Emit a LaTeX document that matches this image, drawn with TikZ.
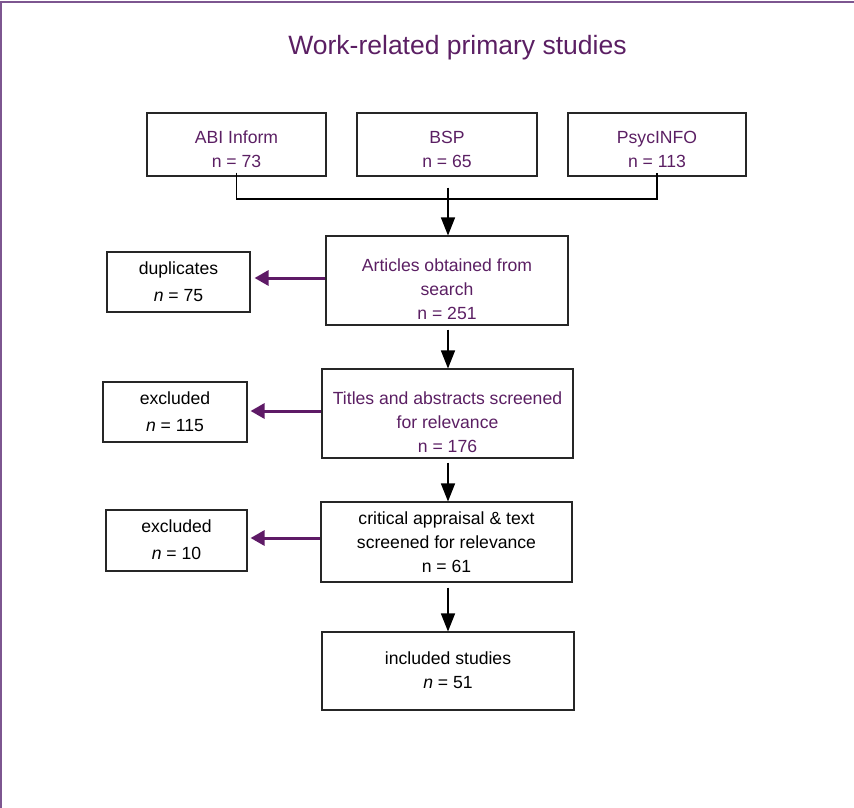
\documentclass[tikz,border=0pt]{standalone}
\usepackage{fontspec}
\setmainfont{Liberation Sans}
\usetikzlibrary{arrows.meta}
\definecolor{txtpurple}{HTML}{5B1F63}
\definecolor{arrpurple}{HTML}{5E1A66}
\definecolor{framepurple}{HTML}{7D5690}
\begin{document}
\begin{tikzpicture}[x=1pt,y=-1pt,
  box/.style={draw=black!85, line width=1.1pt, rectangle, inner sep=0pt},
  txt/.style={align=center, inner sep=0pt, font=\fontsize{17.6}{24}\selectfont},
  ptxt/.style={txt, text=txtpurple},
  darrow/.style={draw=black, line width=1.3pt, -{Triangle[length=18pt,width=14pt]}},
  parrow/.style={draw=arrpurple, line width=3pt, -{Triangle[length=14pt,width=15pt]}},
  bracket/.style={draw=black, line width=1.8pt}
]
\useasboundingbox (0,0) rectangle (854,808);
% frame (top and left edges)
\draw[framepurple, line width=2pt] (1,808) -- (1,2) -- (854,2);

% title
\node[font=\fontsize{26.5}{30}\selectfont, text=txtpurple, inner sep=0pt] (title) at (457.5,48) {Work-related primary studies};

% top database boxes
\node[box, minimum width=179pt, minimum height=63pt] (abi) at (236.5,144.5) {};
\node[box, minimum width=180pt, minimum height=63pt] (bsp) at (447,144.5) {};
\node[box, minimum width=178pt, minimum height=63pt] (psy) at (657,144.5) {};
\node[ptxt] (tabi) at (236.5,149) {ABI Inform\\n = 73};
\node[ptxt] (tbsp) at (447,149) {BSP\\n = 65};
\node[ptxt] (tpsy) at (657,149) {PsycINFO\\n = 113};

% main column
\node[box, minimum width=242pt, minimum height=89pt] (art) at (447,280.5) {};
\node[ptxt] (tart) at (447,289) {Articles obtained from\\search\\n = 251};
\node[box, minimum width=251pt, minimum height=89pt] (tit) at (447.5,413.5) {};
\node[ptxt] (ttit) at (447.5,422.5) {Titles and abstracts screened\\for relevance\\n = 176};
\node[box, minimum width=251pt, minimum height=80pt] (cri) at (446.5,542) {};
\node[txt] (tcri) at (446.5,542) {critical appraisal \& text\\screened for relevance\\n = 61};
\node[box, minimum width=252pt, minimum height=78pt] (inc) at (448,671) {};
\node[txt] (tinc) at (448,670) {included studies\\\textit{n} = 51};

% side boxes
\node[box, minimum width=143pt, minimum height=60pt] (dup) at (178.5,282) {};
\node[txt] (tdup) at (178.5,281.5) {duplicates\\[3pt]\textit{n} = 75};
\node[box, minimum width=144pt, minimum height=60pt] (ex1) at (175,412) {};
\node[txt] (tex1) at (175,411.5) {excluded\\[3pt]\textit{n} = 115};
\node[box, minimum width=141pt, minimum height=61pt] (ex2) at (176.5,540.5) {};
\node[txt] (tex2) at (176.5,539.5) {excluded\\[3pt]\textit{n} = 10};

% bracket joining the databases
\coordinate (brk) at (447,199);
\draw[bracket] ([yshift=4pt]abi.south) |- (brk) -| ([yshift=4pt]psy.south);

% downward arrows
\draw[darrow] ([xshift=1pt,yshift=-11pt]bsp.south) -- ([xshift=1pt]art.north);
\draw[darrow] ([xshift=1pt,yshift=-4pt]art.south) -- ([xshift=0.5pt]tit.north);
\draw[darrow] ([xshift=0.5pt,yshift=-4pt]tit.south) -- ([xshift=1.5pt]cri.north);
\draw[darrow] ([xshift=1.5pt,yshift=-5pt]cri.south) -- (inc.north);

% exclusion arrows (horizontal)
\coordinate (a1) at ([yshift=2.5pt]art.west);
\coordinate (d1) at ([xshift=4pt]dup.east);
\coordinate (a2) at ([yshift=2.5pt]tit.west);
\coordinate (d2) at ([xshift=3pt]ex1.east);
\coordinate (a3) at ([yshift=4pt]cri.west);
\coordinate (d3) at ([xshift=3pt]ex2.east);
\draw[parrow] (a1) -- (a1 -| d1);
\draw[parrow] (a2) -- (a2 -| d2);
\draw[parrow] (a3) -- (a3 -| d3);
\end{tikzpicture}
\end{document}
